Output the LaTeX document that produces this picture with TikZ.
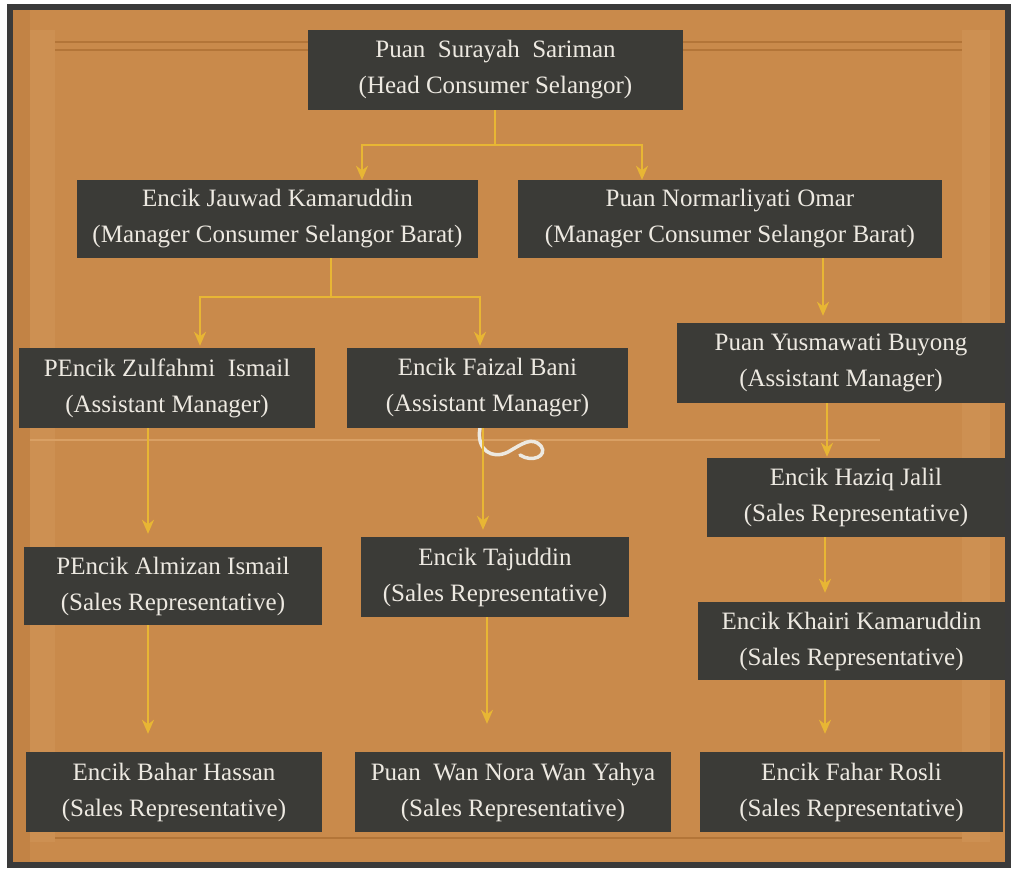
\documentclass[tikz,border=0pt]{standalone}
\usepackage{fontspec}
\setmainfont{Liberation Serif}
\usepackage{tikz}
\usetikzlibrary{arrows.meta}
\definecolor{framedark}{HTML}{3A3A3A}
\definecolor{woodorange}{HTML}{C98A4B}
\definecolor{woodlight}{HTML}{D9A064}
\definecolor{wooddark}{HTML}{B37538}
\definecolor{boxgrey}{HTML}{3B3B37}
\definecolor{cream}{HTML}{EDE9E1}
\definecolor{linkgold}{HTML}{E8B634}

\begin{document}
\begin{tikzpicture}[x=1pt,y=1pt,yscale=-1,
  staffbox/.style={fill=boxgrey,text=cream,align=center,inner sep=0pt,
    font=\fontsize{25}{36}\selectfont},
  link/.style={draw=linkgold,line width=2.6pt},
  linkarrow/.style={link,-{Stealth[length=14pt,width=12pt]}}]
\useasboundingbox (0,0) rectangle (1011,870);

%Background frame
\fill[white] (0,0) rectangle (1011,870);
\fill[framedark] (7,4) rectangle (1011,868);
\fill[woodorange] (13,10) rectangle (1005,862);
\fill[wooddark,opacity=0.3] (13,10) rectangle (30,862);
\fill[woodlight,opacity=0.3] (30,30) rectangle (55,842);
\fill[woodlight,opacity=0.3] (962,30) rectangle (990,842);
\draw[wooddark,line width=1.2pt] (55,42) -- (962,42);
\draw[wooddark,line width=1.2pt] (55,50) -- (962,50);
\draw[wooddark,line width=1.2pt] (55,838) -- (962,838);
\draw[woodlight,line width=1.2pt] (30,440) -- (880,440);
%Ornament
\draw[cream,line width=3.5pt,line cap=round] (480,428) .. controls (476,450) and (492,460) .. (508,452)
  .. controls (522,444) and (532,436) .. (541,446) .. controls (548,456) and (532,463) .. (520,455);

% Staff boxes
\node[staffbox,minimum width=375pt,minimum height=80pt] (head) at (495.5,70) {Puan~ Surayah~ Sariman\\(Head Consumer Selangor)};
\node[staffbox,minimum width=401pt,minimum height=78pt] (jauwad) at (277.5,219) {Encik Jauwad Kamaruddin\\(Manager Consumer Selangor Barat)};
\node[staffbox,minimum width=424pt,minimum height=78pt] (normar) at (730,219) {Puan Normarliyati Omar\\(Manager Consumer Selangor Barat)};
\node[staffbox,minimum width=296pt,minimum height=80pt] (zulfahmi) at (167,388) {PEncik Zulfahmi~ Ismail\\(Assistant Manager)};
\node[staffbox,minimum width=281pt,minimum height=80pt] (faizal) at (487.5,388) {Encik Faizal Bani\\(Assistant Manager)};
\node[staffbox,minimum width=328pt,minimum height=80pt] (yusma) at (841,363) {Puan Yusmawati Buyong\\(Assistant Manager)};
\node[staffbox,minimum width=298pt,minimum height=79pt] (haziq) at (856,497.5) {Encik Haziq Jalil\\(Sales Representative)};
\node[staffbox,minimum width=307pt,minimum height=78pt] (khairi) at (851.5,641) {Encik Khairi Kamaruddin\\(Sales Representative)};
\node[staffbox,minimum width=298pt,minimum height=78pt] (almizan) at (173,586) {PEncik Almizan Ismail\\(Sales Representative)};
\node[staffbox,minimum width=268pt,minimum height=80pt] (tajuddin) at (495,577) {Encik Tajuddin\\(Sales Representative)};
\node[staffbox,minimum width=296pt,minimum height=80pt] (bahar) at (174,792) {Encik Bahar Hassan\\(Sales Representative)};
\node[staffbox,minimum width=316pt,minimum height=80pt] (wannora) at (513,792) {Puan~ Wan Nora Wan Yahya\\(Sales Representative)};
\node[staffbox,minimum width=303pt,minimum height=80pt] (fahar) at (851.5,792) {Encik Fahar Rosli\\(Sales Representative)};

% Connector columns
\coordinate (hx) at (495,0);
\coordinate (hl) at (362,145);
\coordinate (hr) at (642,145);
\coordinate (jx) at (331,0);
\coordinate (jl) at (200,297);
\coordinate (jr) at (480,297);
\coordinate (nx) at (823,0);
\coordinate (lx) at (148,0);
\coordinate (mx) at (483,0);
\coordinate (wx) at (487,0);
\coordinate (yx) at (827,0);
\coordinate (kx) at (825,0);

% Connectors
\draw[link] (head.south -| hx) -- (hl -| hx);
\draw[linkarrow] (hl -| hx) -- (hl) -- (jauwad.north -| hl);
\draw[linkarrow] (hl -| hx) -- (hr) -- (normar.north -| hr);
\draw[link] (jauwad.south -| jx) -- (jl -| jx);
\draw[linkarrow,shorten >=2pt] (jl -| jx) -- (jl) -- (zulfahmi.north -| jl);
\draw[linkarrow,shorten >=2pt] (jl -| jx) -- (jr) -- (faizal.north -| jr);
\draw[linkarrow,shorten >=7pt] (normar.south -| nx) -- (yusma.north -| nx);
\draw[linkarrow,shorten >=13pt] (zulfahmi.south -| lx) -- (almizan.north -| lx);
\draw[linkarrow,shorten >=7pt] (faizal.south -| mx) -- (tajuddin.north -| mx);
\draw[linkarrow,shorten >=1pt] (yusma.south -| yx) -- (haziq.north -| yx);
\draw[linkarrow,shorten >=9pt] (haziq.south -| kx) -- (khairi.north -| kx);
\draw[linkarrow,shorten >=18pt] (khairi.south -| kx) -- (fahar.north -| kx);
\draw[linkarrow,shorten >=18pt] (almizan.south -| lx) -- (bahar.north -| lx);
\draw[linkarrow,shorten >=28pt] (tajuddin.south -| wx) -- (wannora.north -| wx);
\end{tikzpicture}
\end{document}
